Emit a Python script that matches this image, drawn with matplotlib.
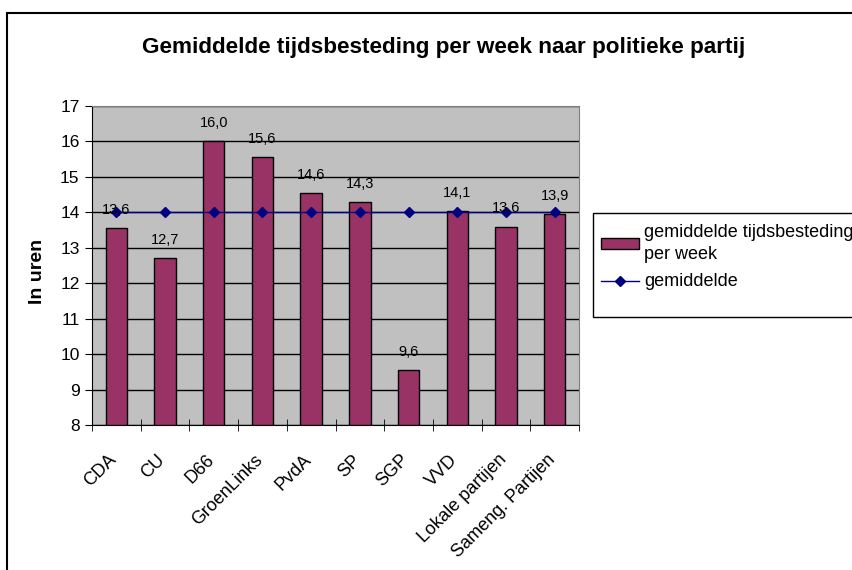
import matplotlib.pyplot as plt
import matplotlib.patches as patches
import matplotlib.transforms as mtransforms
import numpy as np

partijen = ['CDA', 'CU', 'D66', 'GroenLinks', 'PvdA', 'SP', 'SGP', 'VVD',
            'Lokale partijen', 'Sameng. Partijen']
uren = [13.55, 12.7, 16.0, 15.55, 14.55, 14.3, 9.55, 14.05, 13.6, 13.95]
labels = ['13,6', '12,7', '16,0', '15,6', '14,6', '14,3', '9,6', '14,1', '13,6', '13,9']
gemiddelde = [14.0] * len(partijen)

plt.rcParams['font.family'] = ['Liberation Sans', 'DejaVu Sans']

W, H = 852, 570
fig = plt.figure(figsize=(W / 100, H / 100), dpi=100)
# outer chart frame (only left and top edge visible)
fig.patches.append(patches.Rectangle((7 / W, -0.1), 2.0, (H - 13) / H + 0.1,
                                     transform=fig.transFigure, fill=False,
                                     edgecolor='black', linewidth=1.5))

ax = fig.add_axes([92 / W, (H - 425) / H, (579 - 92) / W, (425 - 106) / H])
ax.set_facecolor('#C0C0C0')

x = np.arange(len(partijen))
bars = ax.bar(x, [u - 8 for u in uren], bottom=8, width=0.44, color='#993366',
              edgecolor='black', linewidth=1, zorder=3,
              label='gemiddelde tijdsbesteding\nper week')
line, = ax.plot(x, gemiddelde, color='#000080', marker='D', markersize=5,
                linewidth=1, zorder=4, label='gemiddelde')

for xi, u, t in zip(x, uren, labels):
    ax.annotate(t, (xi, u), xytext=(0, 13), textcoords='offset points',
                ha='center', va='center', fontsize=10.5, zorder=5)

ax.set_xlim(-0.5, len(partijen) - 0.5)
ax.set_ylim(8, 17)
ax.set_yticks(range(8, 18))
ax.yaxis.grid(True, color='black', linewidth=1, zorder=1)
ax.set_axisbelow(True)
ax.tick_params(axis='y', labelsize=12.5, length=5, direction='out',
               color='black', pad=4)

ax.set_xticks(x)
ax.set_xticklabels(partijen, rotation=45, ha='right', va='top',
                   rotation_mode='anchor', fontsize=13)
ax.tick_params(axis='x', length=0, pad=19)
shift = mtransforms.ScaledTranslation(-6 / 72, 0, fig.dpi_scale_trans)
for lab in ax.get_xticklabels():
    lab.set_transform(lab.get_transform() + shift)
ax.set_xticks(np.arange(-0.5, len(partijen)), minor=True)
ax.tick_params(axis='x', which='minor', length=8, direction='inout')

for s in ax.spines.values():
    s.set_color('#808080')
ax.spines['left'].set_color('black')
ax.spines['bottom'].set_color('black')

fig.text(38 / W, 1 - 271 / H, 'In uren', rotation=90, ha='center', va='center',
         fontsize=14, fontweight='bold')
fig.text(444 / W, 1 - 47 / H, 'Gemiddelde tijdsbesteding per week naar politieke partij',
         ha='center', va='center', fontsize=16.2, fontweight='bold')

# legend box drawn separately (Excel leaves extra space at the bottom)
fig.patches.append(patches.Rectangle((593 / W, 1 - 317 / H), 0.5, (317 - 213) / H,
                                     transform=fig.transFigure, fill=True,
                                     facecolor='white', edgecolor='black',
                                     linewidth=1, zorder=5))
leg = fig.legend([bars, line], [bars.get_label(), line.get_label()],
                 loc='upper left', bbox_to_anchor=(597 / W, 1 - 220 / H),
                 fontsize=13, frameon=False, handlelength=2.1, handleheight=0.5,
                 handletextpad=0.3, labelspacing=0.55, borderaxespad=0,
                 borderpad=0.2)
leg.get_texts()[0].set_linespacing(1.45)
leg.set_zorder(6)

fig.savefig('out.png', dpi=100)
